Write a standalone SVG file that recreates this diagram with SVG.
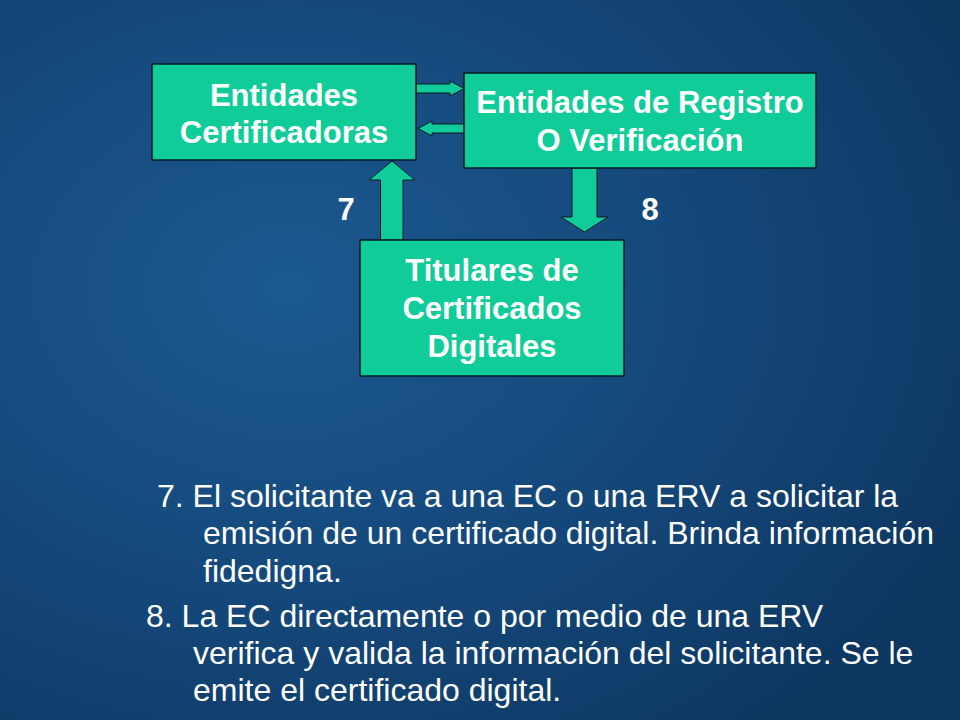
<svg xmlns="http://www.w3.org/2000/svg" width="960" height="720" viewBox="0 0 960 720">
<defs>
<radialGradient id="bg" cx="0.3" cy="0.4" r="0.8">
<stop offset="0" stop-color="#1b5890"/>
<stop offset="0.5" stop-color="#15497c"/>
<stop offset="1" stop-color="#0d3660"/>
</radialGradient>
<style>
.box{fill:#10cc98;stroke:#0a1a22;stroke-width:1.5}
.arr{fill:#10cc98;stroke:#0a1a22;stroke-width:1}
.bt{font-family:"Liberation Sans",Arial,sans-serif;font-weight:bold;font-size:31px;fill:#ffffff;text-anchor:middle}
.lbl{font-family:"Liberation Sans",Arial,sans-serif;font-weight:bold;font-size:31px;fill:#ffffff;text-anchor:middle}
.body{font-family:"Liberation Sans",Arial,sans-serif;font-size:32px;fill:#ffffff}
</style>
</defs>
<rect x="0" y="0" width="960" height="720" fill="url(#bg)"/>
<g id="connectors">
<polygon class="arr" points="416,84 450,84 450,81 464,88.5 450,96 450,93 416,93"/>
<polygon class="arr" points="464,124 432,124 432,121 418,128.5 432,136 432,133 464,133"/>
<polygon class="arr" points="380.5,240 380.5,180 369,180 392,161 415,180 403,180 403,240"/>
<polygon class="arr" points="572,168 597,168 597,217 608,217 584.5,232 561,217 572,217"/>
</g>
<g id="node-ec">
<rect class="box" x="152" y="64" width="264" height="96"/>
<text class="bt" x="284" y="106">Entidades</text>
<text class="bt" x="284" y="143">Certificadoras</text>
</g>
<g id="node-erv">
<rect class="box" x="464" y="73" width="352" height="95"/>
<text class="bt" x="640" y="113">Entidades de Registro</text>
<text class="bt" x="640" y="151">O Verificación</text>
</g>
<g id="node-titulares">
<rect class="box" x="360" y="240" width="264" height="136"/>
<text class="bt" x="492" y="281">Titulares de</text>
<text class="bt" x="492" y="319">Certificados</text>
<text class="bt" x="492" y="357">Digitales</text>
</g>
<g id="labels">
<text class="lbl" x="346" y="220">7</text>
<text class="lbl" x="650" y="220">8</text>
</g>
<g id="notes">
<text class="body" x="157" y="507">7. El solicitante va a una EC o una ERV a solicitar la</text>
<text class="body" x="203" y="544">emisión de un certificado digital. Brinda información</text>
<text class="body" x="203" y="582">fidedigna.</text>
<text class="body" x="146" y="627">8. La EC directamente o por medio de una ERV</text>
<text class="body" x="193" y="664">verifica y valida la información del solicitante. Se le</text>
<text class="body" x="193" y="701">emite el certificado digital.</text>
</g>
</svg>
